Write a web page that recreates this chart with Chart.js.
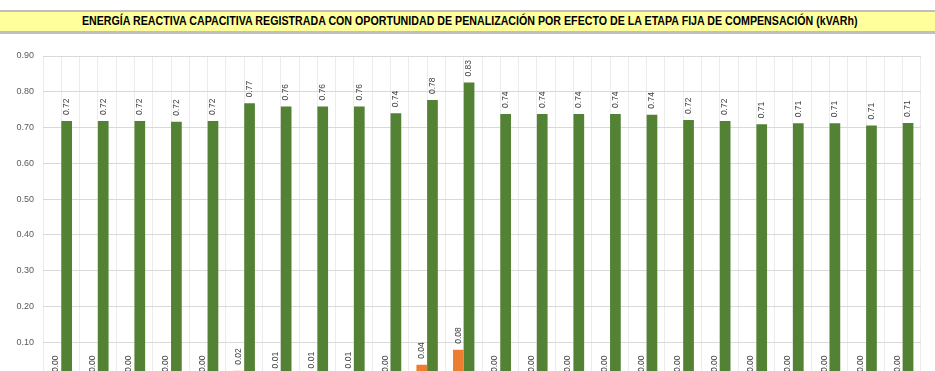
<!DOCTYPE html>
<html>
<head>
<meta charset="utf-8">
<script src="https://cdn.jsdelivr.net/npm/chart.js@4.4.1/dist/chart.umd.min.js"></script>
<style>
  html, body { margin: 0; padding: 0; background: #ffffff; overflow: hidden; }
  #wrap { position: relative; width: 935px; height: 371px; overflow: hidden; }
  #titulo {
    position: absolute; left: 0; top: 10px; width: 935px; height: 19px;
    background: #ffff9b; border-top: 2px solid #bfbfbf; border-bottom: 3px solid #bfbfbf;
    font-family: "Liberation Sans", Arial, sans-serif;
    font-weight: bold; font-size: 12px; line-height: 19px; text-align: center; color: #000;
    z-index: 2;
  }
  /* letra condensada, como Arial Narrow */
  #titulo span { display: inline-block; transform: scaleX(0.888); transform-origin: center; white-space: nowrap; margin-left: 4px; }
  #grafico { position: absolute; left: 0; top: 0; }
</style>
</head>
<body>
<div id="wrap">
  <div id="titulo"><span>ENERGÍA REACTIVA CAPACITIVA REGISTRADA CON OPORTUNIDAD DE PENALIZACIÓN POR EFECTO DE LA ETAPA FIJA DE COMPENSACIÓN (kVARh)</span></div>
  <canvas id="grafico" width="935" height="440"></canvas>
</div>
<script>
var horas = ["1", "2", "3", "4", "5", "6", "7", "8", "9", "10", "11", "12",
             "13", "14", "15", "16", "17", "18", "19", "20", "21", "22", "23", "24"];

// energía con oportunidad de penalización (naranja)
var penalizable = [0, 0, 0, 0, 0, 0.02, 0.01, 0.01, 0.01, 0, 0.037, 0.079,
                   0, 0, 0, 0, 0, 0, 0, 0, 0, 0, 0, 0];

// energía reactiva capacitiva registrada (verde)
var registrada = [0.718, 0.718, 0.718, 0.716, 0.718, 0.768, 0.759, 0.759, 0.759, 0.740, 0.777, 0.826,
                  0.738, 0.738, 0.738, 0.738, 0.736, 0.721, 0.718, 0.709, 0.712, 0.712, 0.706, 0.713];

var ticksY = [0, 0.1, 0.2, 0.3, 0.4, 0.5, 0.6, 0.7, 0.8, 0.9];

// etiquetas de valor giradas sobre cada barra
var etiquetas = {
    id: "etiquetas",
    afterDatasetsDraw: function (chart) {
        var ctx = chart.ctx;
        ctx.save();
        ctx.font = "8.5px 'Liberation Sans', Arial, sans-serif";
        ctx.fillStyle = "#404040";
        ctx.textAlign = "left";
        ctx.textBaseline = "middle";
        chart.data.datasets.forEach(function (ds, i) {
            chart.getDatasetMeta(i).data.forEach(function (bar, j) {
                ctx.save();
                ctx.translate(bar.x, bar.y - 6);
                ctx.rotate(-Math.PI / 2);
                ctx.fillText(ds.data[j].toFixed(2), 0, 0);
                ctx.restore();
            });
        });
        ctx.restore();
    }
};

new Chart(document.getElementById("grafico"), {
    type: "bar",
    data: {
        labels: horas,
        datasets: [
            { label: "Penalizable", data: penalizable, backgroundColor: "#ed7d31" },
            { label: "Registrada", data: registrada, backgroundColor: "#548235" },
        ],
    },
    options: {
        responsive: false,
        animation: false,
        layout: { padding: { top: 56, right: 14, bottom: 32, left: 0 } },
        datasets: { bar: { barPercentage: 1, categoryPercentage: 0.585 } },
        plugins: {
            legend: { display: false },
            tooltip: { enabled: false },
        },
        scales: {
            x: {
                offset: true,
                grid: { offset: true, color: "#ececec", drawTicks: false },
                border: { display: false },
                ticks: { font: { size: 9 }, color: "#595959" },
                afterFit: function (s) { s.height = 30; },
            },
            x2: {
                type: "category",
                labels: horas,
                position: "bottom",
                offset: true,
                grid: { offset: false, color: "#ececec", drawTicks: false },
                border: { display: false },
                ticks: { display: false },
                afterFit: function (s) { s.height = 0; },
            },
            y: {
                min: 0,
                max: 0.9,
                afterBuildTicks: function (s) { s.ticks = ticksY.map(function (v) { return { value: v }; }); },
                grid: { color: "#d9d9d9", drawTicks: false },
                border: { display: false },
                ticks: {
                    padding: 9,
                    color: "#595959",
                    font: { size: 9, family: "'Liberation Sans', Arial, sans-serif" },
                    callback: function (v) { return v.toFixed(2); },
                },
                afterFit: function (s) { s.width = 43; },
            },
        },
    },
    plugins: [etiquetas],
});
</script>
</body>
</html>
